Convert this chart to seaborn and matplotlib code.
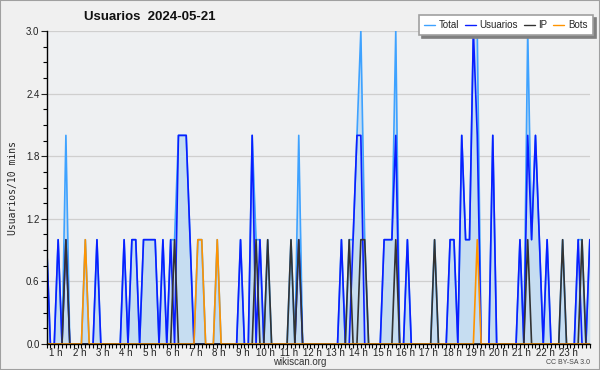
import matplotlib
matplotlib.use('Agg')
import matplotlib.pyplot as plt
from matplotlib.patches import Rectangle
from matplotlib.ticker import MultipleLocator, FixedLocator
import seaborn as sns
import pandas as pd

# 141 samples of 10 minutes, first one at 00:35
start_min = 35
n = 141

# non-zero values per sample index
users_nz = {0: 1, 3: 1, 5: 1, 13: 1, 20: 1, 22: 1, 23: 1, 25: 1, 26: 1, 27: 1, 28: 1,
            30: 1, 32: 1, 34: 2, 35: 2, 36: 2, 37: 1, 50: 1, 53: 2, 55: 1, 65: 1,
            76: 1, 79: 1, 80: 2, 81: 2, 87: 1, 88: 1, 89: 1, 90: 2, 93: 1,
            104: 1, 105: 1, 107: 2, 108: 1, 109: 1, 110: 3, 111: 2, 115: 2,
            122: 1, 124: 2, 125: 1, 126: 2, 127: 1, 129: 1, 137: 1, 140: 1}
ip_nz = {5: 1, 33: 1, 54: 1, 57: 1, 63: 1, 65: 1, 78: 1, 81: 1, 82: 1, 90: 1,
         100: 1, 124: 1, 133: 1, 138: 1}
bots_nz = {10: 1, 39: 1, 40: 1, 44: 1, 111: 1}

usuarios = [users_nz.get(i, 0) for i in range(n)]
ip = [ip_nz.get(i, 0) for i in range(n)]
bots = [bots_nz.get(i, 0) for i in range(n)]
total = [u + p + b for u, p, b in zip(usuarios, ip, bots)]

hours = list(range(1, 24))
hour_labels = [f'{h} h' for h in hours]
y_ticks = [0.0, 0.6, 1.2, 1.8, 2.4, 3.0]

df = pd.DataFrame({
    't': [(start_min + 10 * i) / 60 for i in range(n)],
    'Total': total,
    'Usuarios': usuarios,
    'IP': ip,
    'Bots': bots,
})

sns.set_theme(style='white')
plt.rcParams['font.family'] = ['Liberation Sans', 'DejaVu Sans']

fig = plt.figure(figsize=(6, 3.7), dpi=100, facecolor='#f0f0f0')
ax = fig.add_axes([0.0775, 0.0703, 0.9055, 0.8457])
ax.set_facecolor('#eef0f2')

ax.fill_between(df['t'], df['Total'], color='#c6ddf1', lw=0)
colors = {'Total': '#3ea2ff', 'Usuarios': '#0a1eff', 'IP': '#333333', 'Bots': '#ff9400'}
for col in ['Total', 'Usuarios', 'IP', 'Bots']:
    sns.lineplot(data=df, x='t', y=col, ax=ax, color=colors[col], lw=1.2, label=col, legend=False)

ax.set_xlim(df['t'].iloc[0], df['t'].iloc[-1])
ax.set_ylim(0, 3.0)
ax.set_yticks(y_ticks)
ax.set_yticklabels([f'{v:.1f}' for v in y_ticks])
ax.yaxis.set_minor_locator(MultipleLocator(0.15))
ax.set_xticks(hours)
ax.set_xticklabels(hour_labels)
ax.xaxis.set_minor_locator(FixedLocator(df['t'].tolist()))
ax.tick_params(axis='x', which='major', length=0, labelsize=7, pad=3, colors='#222')
ax.tick_params(axis='x', which='minor', length=3, width=0.8, color='black', bottom=True)
ax.tick_params(axis='y', which='major', length=4, width=0.8, labelsize=7, pad=1, colors='#222', left=True)
ax.tick_params(axis='y', which='minor', length=3, width=0.8, color='black', left=True)
ax.yaxis.grid(True, color='#cfcfcf', lw=0.9)
ax.xaxis.grid(False)
for s in ['top', 'right']:
    ax.spines[s].set_visible(False)
for s in ['left', 'bottom']:
    ax.spines[s].set_color('black')
    ax.spines[s].set_linewidth(1)
ax.set_xlabel('')
ax.set_ylabel('Usuarios/10 mins', family='DejaVu Sans Mono', fontsize=7, labelpad=6)

fig.text(0.25, 0.953, 'Usuarios  2024-05-21', ha='center', va='center',
         fontsize=9.5, fontweight='bold', color='#111')
fig.text(0.5, 0.022, 'wikiscan.org', ha='center', va='center', fontsize=7, color='#333')
fig.text(0.983, 0.02, 'CC BY-SA 3.0', ha='right', va='center', fontsize=5, color='#444')

leg = fig.legend(loc='upper right', bbox_to_anchor=(0.988, 0.96), ncol=4, fontsize=7,
                 frameon=True, fancybox=False, shadow={'color': '#808080', 'alpha': 1},
                 framealpha=1, handlelength=1.1, handletextpad=0.4, columnspacing=0.6,
                 borderpad=0.55, borderaxespad=0)
leg.get_frame().set_edgecolor('#a0a0a0')
leg.get_frame().set_linewidth(1.2)
for line in leg.get_lines():
    line.set_linewidth(1)

fig.patches.append(Rectangle((0, 0), 1, 1, transform=fig.transFigure, fill=False,
                             edgecolor='#a0a0a0', lw=1.5))

fig.savefig('out.png', dpi=100, facecolor=fig.get_facecolor())
